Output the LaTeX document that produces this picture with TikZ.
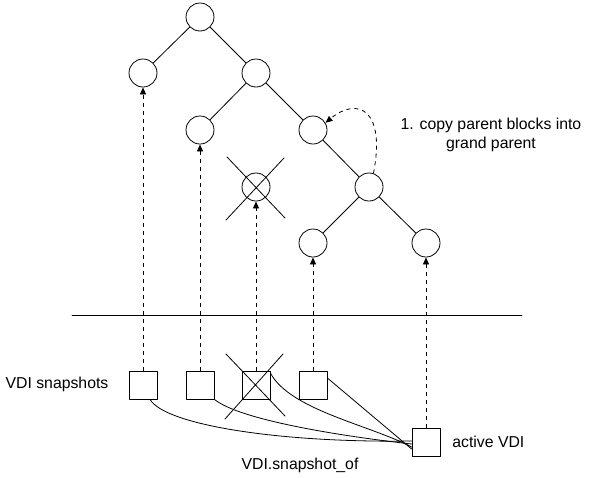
\documentclass[tikz,border=0pt]{standalone}
\usepackage{fontspec}
\setmainfont{Liberation Sans}
\usetikzlibrary{arrows.meta}
\begin{document}
\begin{tikzpicture}[x=1pt, y=-1pt, font=\fontsize{15.8}{19}\selectfont, line join=round, line cap=round, line width=0.8pt, >={Triangle[length=7pt,width=6pt]},
    blk/.style={draw, circle, minimum size=28pt, inner sep=0pt},
    vdi/.style={draw, minimum size=28pt, inner sep=0pt},
    ref/.style={->, dash pattern=on 4pt off 4pt, line cap=butt}]
    \useasboundingbox (0,0) rectangle (592,477);
    % block tree
    \node[blk] (r) at (200,17) {};
    \node[blk] (a) at (143,73) {};
    \node[blk] (b) at (256,73) {};
    \node[blk] (c) at (200,130) {};
    \node[blk] (d) at (313,130) {};
    \node[blk] (e) at (256,187) {};
    \node[blk] (f) at (369,187) {};
    \node[blk] (g) at (313,243) {};
    \node[blk] (h) at (426,243) {};
    \draw (r)--(a) (r)--(b) (b)--(c) (b)--(d) (d)--(f) (f)--(g) (f)--(h);
    \draw ([shift={(-29,-30)}]e.center)--([shift={(29,31)}]e.center)
        ([shift={(28,-29)}]e.center)--([shift={(-30,33)}]e.center);
    \draw[ref] (f.72) .. controls (386,110) and (358,96) .. (d.30);
    \node[align=center] (note) at (491,135) {1. copy parent blocks into\\grand parent};
    % divider
    \draw (72,315)--(522,315);
    % VDIs
    \node[vdi] (s1) at (143,385) {};
    \node[vdi] (s2) at (200,385) {};
    \node[vdi] (s3) at (256,385) {};
    \node[vdi] (s4) at (313,385) {};
    \node[vdi] (av) at (426,442) {};
    \draw ([shift={(-30,-31)}]s3.center)--([shift={(29,31)}]s3.center)
        ([shift={(27,-31)}]s3.center)--([shift={(-31,34)}]s3.center);
    \node (snaps) at (57,384) {VDI snapshots};
    \node[anchor=west, inner sep=0pt] (avl) at (452,442) {active VDI};
    \node (sof) at (300,465) {VDI.snapshot\_of};
    \draw[ref] (s1)--(a); \draw[ref] (s2)--(c); \draw[ref] (s3)--(e);
    \draw[ref] (s4)--(g); \draw[ref] (av)--(h);
    \draw ([xshift=7pt]s1.south) .. controls (165,425) and (280,443) .. ([yshift=1pt]av.west);
    \draw (s2.south east) .. controls (240,420) and (340,436) .. ([yshift=-2pt]av.west);
    \draw ([yshift=12pt]s3.east) .. controls (290,410) and (370,425) .. ([yshift=-5pt]av.west);
    \draw ([yshift=7pt]s4.east)--([yshift=-7pt]av.west);
\end{tikzpicture}
\end{document}
